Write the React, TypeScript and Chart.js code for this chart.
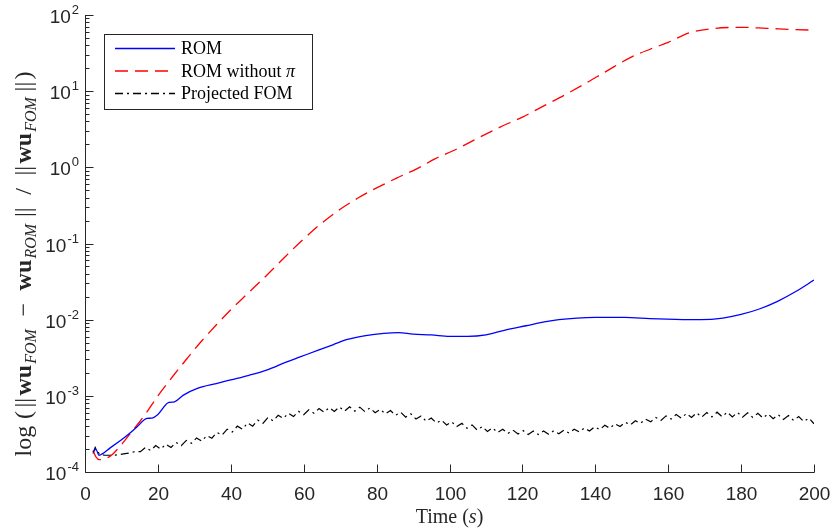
import React, { useEffect, useRef } from "react";
import { Chart, registerables } from "chart.js";

Chart.register(...registerables);

// ---------------- data ----------------
// ROM (blue, solid)
const TIME_ROM = [2.2, 3.0, 3.8, 7, 11, 14, 17, 18.3, 20, 23, 24.5, 27, 31, 36, 40, 45, 50, 55, 59, 64, 68, 72, 77, 82, 86, 90, 95, 100, 105, 110, 115, 121, 126, 130, 135, 140, 148, 155, 162, 169, 175, 180, 185, 190, 195, 200];
const ERR_ROM = [1.82e-4, 2.0e-4, 1.66e-4, 2.09e-4, 2.88e-4, 3.8e-4, 5.05e-4, 5.1e-4, 5.7e-4, 8.2e-4, 8.35e-4, 1.02e-3, 1.26e-3, 1.45e-3, 1.62e-3, 1.86e-3, 2.19e-3, 2.75e-3, 3.24e-3, 3.98e-3, 4.68e-3, 5.5e-3, 6.17e-3, 6.61e-3, 6.76e-3, 6.46e-3, 6.31e-3, 6.03e-3, 6.03e-3, 6.31e-3, 7.24e-3, 8.32e-3, 9.33e-3, 1.0e-2, 1.05e-2, 1.07e-2, 1.07e-2, 1.035e-2, 1.01e-2, 1.0e-2, 1.05e-2, 1.17e-2, 1.38e-2, 1.74e-2, 2.34e-2, 3.31e-2];

// ROM without pi (red, dashed)
const TIME_NOPI = [2.2, 3, 4, 5, 7, 10, 13, 15, 17, 20, 24, 28, 32, 36, 40, 45, 50, 55, 60, 65, 70, 75, 80, 86, 91, 96, 102, 108, 114, 120, 126, 132, 138, 143, 150, 155, 160, 166, 173, 180, 187, 194, 200];
const ERR_NOPI = [1.91e-4, 1.58e-4, 1.45e-4, 1.48e-4, 1.62e-4, 2.29e-4, 3.47e-4, 4.57e-4, 6.17e-4, 1.0e-3, 1.78e-3, 3.09e-3, 5.25e-3, 8.51e-3, 1.35e-2, 2.29e-2, 3.89e-2, 6.76e-2, 0.115, 0.186, 0.282, 0.398, 0.537, 0.741, 0.955, 1.29, 1.74, 2.45, 3.39, 4.57, 6.46, 9.12, 13.2, 18.2, 28.2, 35.5, 43.7, 58.9, 66.8, 68.9, 66.8, 64.6, 63.1];

// Projected FOM (black, dash-dot); values in units of 1e-4
const PFOM_UNIT = 1e-4;
const PFOM_START_TIME = [2.2, 2.8];
const PFOM_START_ERR = [1.75, 2.1];
const PFOM_GRID_T0 = 4;
const PFOM_GRID_DT = 1.4;
const PFOM_ERR = [
  1.70, 1.66, 1.66, 1.67, 1.70, 1.74, 1.78, 1.86,
  1.85, 2.10, 1.92, 2.22, 2.00, 2.32, 2.10, 2.45, 2.22, 2.60, 2.38, 2.80,
  2.55, 3.00, 2.78, 3.30, 3.05, 3.65, 3.35, 4.00, 3.65, 4.40, 4.00, 4.80, 4.35, 5.20, 4.70, 5.55, 5.05, 5.90, 5.35, 6.25,
  5.65, 6.55, 5.90, 6.80, 6.10, 7.00, 6.25, 7.15, 6.30, 7.20, 6.30, 7.10, 6.20, 6.95, 6.00, 6.65, 5.80, 6.40, 5.55, 6.10,
  5.25, 5.80, 4.95, 5.45, 4.65, 5.10, 4.40, 4.80, 4.15, 4.55, 3.95, 4.35, 3.75, 4.15, 3.55, 3.95, 3.40, 3.80, 3.30, 3.65,
  3.20, 3.55, 3.15, 3.50, 3.10, 3.45, 3.10, 3.45, 3.12, 3.48, 3.18, 3.55, 3.25, 3.65, 3.35, 3.78, 3.45, 3.92, 3.60, 4.10,
  3.75, 4.30, 3.95, 4.50, 4.15, 4.70, 4.35, 4.95, 4.55, 5.20, 4.75, 5.45, 4.95, 5.70, 5.10, 5.85, 5.20, 6.00, 5.25, 6.05,
  5.30, 6.10, 5.30, 6.10, 5.30, 6.05, 5.25, 6.00, 5.20, 5.90, 5.10, 5.80, 5.00, 5.65, 4.90, 5.50, 4.75, 5.35, 4.60, 5.10, 4.30,
];

// axes / ticks
const X_MIN = 0;
const X_MAX = 200;
const X_TICKS = [0, 20, 40, 60, 80, 100, 120, 140, 160, 180, 200];
const Y_MIN = 1e-4;
const Y_MAX = 1e2;
const Y_TICK_EXPONENTS = [-4, -3, -2, -1, 0, 1, 2];
const Y_MINOR_MANTISSAS = [2, 3, 4, 5, 6, 7, 8, 9];

const LEGEND_LABELS = ["ROM", "ROM without ", "Projected FOM"];
const X_TITLE = ["Time (", "s", ")"];

// ---------------- styles ----------------
const AXIS_COLOR = "#262626";
const SANS = '"Liberation Sans", Arial, Helvetica, sans-serif';
const SERIF = '"Liberation Serif", "Times New Roman", serif';
const BLUE = "#0000ff";
const RED = "#ff0000";
const BLACK = "#000000";
const DASH_RED = [13, 7];
const DASH_BLACK = [8, 4, 2, 4];

type Seg = { t: string; font: string; dy: number; gap: number };
const F_MAIN = `24px ${SERIF}`;
const F_BOLD = `bold 24px ${SERIF}`;
const F_SUB = `italic 16px ${SERIF}`;
const YTITLE: Seg[] = [
  { t: "log", font: F_MAIN, dy: 0, gap: 0.6 },
  { t: "(", font: F_MAIN, dy: 0, gap: 0.3 },
  { t: "||", font: F_MAIN, dy: 0, gap: 0.2 },
  { t: "w", font: F_BOLD, dy: 0, gap: 0 },
  { t: "u", font: F_BOLD, dy: 0, gap: 0.1 },
  { t: "FOM", font: F_SUB, dy: 5, gap: 1.1 },
  { t: "\u2212", font: F_MAIN, dy: 0, gap: 1.1 },
  { t: "w", font: F_BOLD, dy: 0, gap: 0 },
  { t: "u", font: F_BOLD, dy: 0, gap: 0.1 },
  { t: "ROM", font: F_SUB, dy: 5, gap: 0.6 },
  { t: "||", font: F_MAIN, dy: 0, gap: 1.1 },
  { t: "/", font: F_MAIN, dy: 0, gap: 1.1 },
  { t: "||", font: F_MAIN, dy: 0, gap: 0.2 },
  { t: "w", font: F_BOLD, dy: 0, gap: 0 },
  { t: "u", font: F_BOLD, dy: 0, gap: 0.1 },
  { t: "FOM", font: F_SUB, dy: 5, gap: 0.5 },
  { t: "||", font: F_MAIN, dy: 0, gap: 0.2 },
  { t: ")", font: F_MAIN, dy: 0, gap: 0 },
];

function zip(xs: number[], ys: number[], scale = 1) {
  return xs.map((x, i) => ({ x, y: ys[i] * scale }));
}

function pfomData() {
  const times = [
    ...PFOM_START_TIME,
    ...PFOM_ERR.map((_, i) => PFOM_GRID_T0 + i * PFOM_GRID_DT),
  ];
  const vals = [...PFOM_START_ERR, ...PFOM_ERR];
  return zip(times, vals, PFOM_UNIT);
}

const overlay = {
  id: "overlay",
  afterDraw(chart: any) {
    const ctx: CanvasRenderingContext2D = chart.ctx;
    const xs = chart.scales.x;
    const ys = chart.scales.y;
    const { left, right, top, bottom } = chart.chartArea;
    ctx.save();
    ctx.strokeStyle = AXIS_COLOR;
    ctx.fillStyle = AXIS_COLOR;
    ctx.lineWidth = 1;
    const L = Math.round(left) + 0.5;
    const B = Math.round(bottom) + 0.5;
    // axis lines
    ctx.beginPath();
    ctx.moveTo(L, top);
    ctx.lineTo(L, B);
    ctx.lineTo(right + 0.5, B);
    ctx.stroke();

    // x ticks + labels
    ctx.font = `19px ${SANS}`;
    ctx.textAlign = "center";
    ctx.textBaseline = "alphabetic";
    X_TICKS.forEach((v) => {
      const px = Math.round(xs.getPixelForValue(v)) + 0.5;
      ctx.beginPath();
      ctx.moveTo(px, B);
      ctx.lineTo(px, B - 8);
      ctx.stroke();
      ctx.fillText(String(v), px, bottom + 28);
    });

    // y ticks (major + minor) + labels
    Y_TICK_EXPONENTS.forEach((e) => {
      const py = Math.round(ys.getPixelForValue(Math.pow(10, e))) + 0.5;
      ctx.beginPath();
      ctx.moveTo(L, py);
      ctx.lineTo(L + 8, py);
      ctx.stroke();
      if (e < Y_TICK_EXPONENTS[Y_TICK_EXPONENTS.length - 1]) {
        Y_MINOR_MANTISSAS.forEach((m) => {
          const pm = Math.round(ys.getPixelForValue(m * Math.pow(10, e))) + 0.5;
          ctx.beginPath();
          ctx.moveTo(L, pm);
          ctx.lineTo(L + 4, pm);
          ctx.stroke();
        });
      }
      const expStr = e < 0 ? "-" + Math.abs(e) : String(e);
      ctx.textAlign = "left";
      ctx.font = `13px ${SANS}`;
      const we = ctx.measureText(expStr).width;
      ctx.font = `19px ${SANS}`;
      const wb = ctx.measureText("10").width;
      const xEnd = left - 6;
      const xb = xEnd - we - wb - 1;
      ctx.fillText("10", xb, py + 7);
      ctx.font = `13px ${SANS}`;
      ctx.fillText(expStr, xb + wb + 1, py - 2);
    });

    // x title
    ctx.fillStyle = AXIS_COLOR;
    ctx.textAlign = "left";
    const fReg = `20px ${SERIF}`;
    const fIt = `italic 20px ${SERIF}`;
    const parts = [
      { t: X_TITLE[0], f: fReg },
      { t: X_TITLE[1], f: fIt },
      { t: X_TITLE[2], f: fReg },
    ];
    let tw = 0;
    parts.forEach((p) => {
      ctx.font = p.f;
      tw += ctx.measureText(p.t).width;
    });
    let tx = (left + right) / 2 - tw / 2;
    parts.forEach((p) => {
      ctx.font = p.f;
      ctx.fillText(p.t, tx, 523);
      tx += ctx.measureText(p.t).width;
    });

    // y title (rotated)
    const TOTAL = 385;
    let natural = 0;
    let gw = 0;
    YTITLE.forEach((s) => {
      ctx.font = s.font;
      natural += ctx.measureText(s.t).width;
      gw += s.gap;
    });
    const unit = gw > 0 ? Math.max(0, (TOTAL - natural) / gw) : 0;
    ctx.save();
    ctx.translate(31, 264);
    ctx.rotate(-Math.PI / 2);
    let yx = -TOTAL / 2;
    YTITLE.forEach((s) => {
      ctx.font = s.font;
      ctx.fillText(s.t, yx, s.dy);
      yx += ctx.measureText(s.t).width + s.gap * unit;
    });
    ctx.restore();

    // legend
    const bx = 104.5, by = 34.5, bw = 208, bh = 75;
    ctx.fillStyle = "#ffffff";
    ctx.fillRect(bx, by, bw, bh);
    ctx.strokeStyle = AXIS_COLOR;
    ctx.lineWidth = 1;
    ctx.strokeRect(bx, by, bw, bh);
    const rows = [
      { c: BLUE, d: [] as number[], y: 48.5 },
      { c: RED, d: DASH_RED, y: 71 },
      { c: BLACK, d: DASH_BLACK, y: 93.5 },
    ];
    rows.forEach((r, i) => {
      ctx.strokeStyle = r.c;
      ctx.lineWidth = 1.3;
      ctx.setLineDash(r.d);
      ctx.beginPath();
      ctx.moveTo(115, r.y);
      ctx.lineTo(175, r.y);
      ctx.stroke();
      ctx.setLineDash([]);
      ctx.fillStyle = "#000";
      ctx.textBaseline = "middle";
      ctx.textAlign = "left";
      ctx.font = `18px ${SERIF}`;
      ctx.fillText(LEGEND_LABELS[i], 181, r.y + 1);
      if (i === 1) {
        const w = ctx.measureText(LEGEND_LABELS[i]).width;
        ctx.font = `italic 18px ${SERIF}`;
        ctx.fillText("\u03c0", 181 + w, r.y + 1);
      }
    });
    ctx.restore();
  },
};

export default function App() {
  const ref = useRef<HTMLCanvasElement>(null);
  useEffect(() => {
    if (!ref.current) return;
    const chart = new Chart(ref.current, {
      type: "line",
      data: {
        datasets: [
          {
            label: "ROM",
            data: zip(TIME_ROM, ERR_ROM),
            borderColor: BLUE,
            borderWidth: 1.3,
            pointRadius: 0,
            cubicInterpolationMode: "monotone",
            fill: false,
          },
          {
            label: "ROM without π",
            data: zip(TIME_NOPI, ERR_NOPI),
            borderColor: RED,
            borderWidth: 1.3,
            borderDash: DASH_RED,
            pointRadius: 0,
            cubicInterpolationMode: "monotone",
            fill: false,
          },
          {
            label: "Projected FOM",
            data: pfomData(),
            borderColor: BLACK,
            borderWidth: 1.2,
            borderDash: DASH_BLACK,
            pointRadius: 0,
            tension: 0,
            fill: false,
          },
        ],
      },
      options: {
        responsive: false,
        animation: false,
        devicePixelRatio: 1,
        layout: { padding: { left: 85, right: 17, top: 15, bottom: 59 } },
        plugins: { legend: { display: false }, tooltip: { enabled: false } },
        events: [],
        scales: {
          x: { type: "linear", min: X_MIN, max: X_MAX, display: false },
          y: { type: "logarithmic", min: Y_MIN, max: Y_MAX, display: false },
        },
      },
      plugins: [overlay],
    } as any);
    return () => chart.destroy();
  }, []);
  return (
    <div style={{ position: "fixed", left: 0, top: 0, width: 831, height: 531, background: "#fff" }}>
      <canvas ref={ref} width={831} height={531} style={{ display: "block" }} />
    </div>
  );
}
